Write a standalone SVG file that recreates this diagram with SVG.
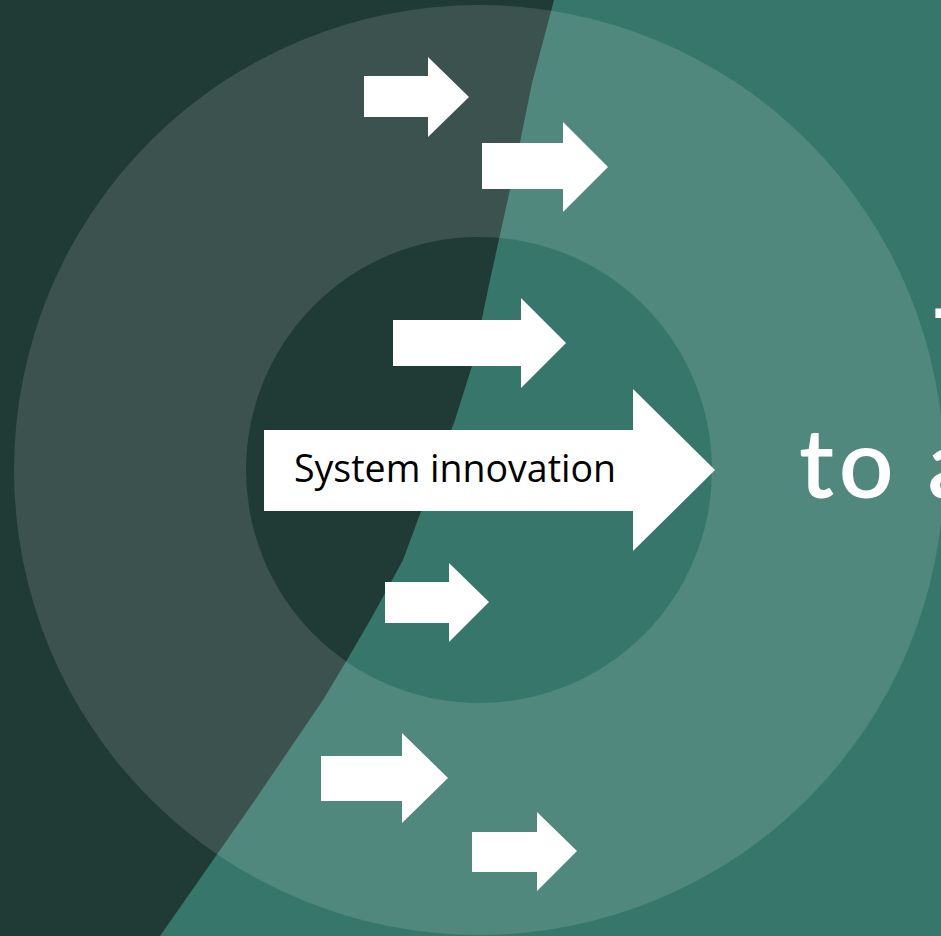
<svg xmlns="http://www.w3.org/2000/svg" width="941" height="936" viewBox="0 0 941 936">
  <style>
    .arrow { fill: #ffffff; }
    .label { font-family: "Open Sans", "Noto Sans", sans-serif; font-size: 37.5px; fill: #000000; }
    .title { font-family: Lato, "Noto Sans", sans-serif; font-size: 96px; font-weight: 600; letter-spacing: 5px; fill: #ffffff; }
  </style>
  <g id="background">
    <rect x="0" y="0" width="941" height="936" fill="#203a36"/>
    <path d="M554,0 L941,0 L941,936 L160,936 L255,800 L323,700 L347,660 L372,617 L403,560 L430,487 L455,420 L472,366 L490,280 L515,167 L532,83 Z" fill="#37776b"/>
    <path d="M14,470 a465,465 0 1,0 930,0 a465,465 0 1,0 -930,0 Z M246,470 a233,233 0 1,0 466,0 a233,233 0 1,0 -466,0 Z" fill="#ffffff" fill-opacity="0.125" fill-rule="evenodd"/>
  </g>
  <g id="connectors">
    <g id="arrow1"><polygon class="arrow" points="364,76 428,76 428,57 469,97 428,137 428,117 364,117"/></g>
    <g id="arrow2"><polygon class="arrow" points="482,143 563,143 563,122 608,167 563,212 563,189 482,189"/></g>
    <g id="arrow3"><polygon class="arrow" points="393,320 521,320 521,298 566,343 521,388 521,366 393,366"/></g>
    <g id="arrow5"><polygon class="arrow" points="385,582 449,582 449,563 489,602 449,642 449,623 385,623"/></g>
    <g id="arrow6"><polygon class="arrow" points="321,756 402,756 402,733 448,778 402,823 402,801 321,801"/></g>
    <g id="arrow7"><polygon class="arrow" points="472,832 537,832 537,812 577,851 537,891 537,872 472,872"/></g>
  </g>
  <g id="system-innovation">
    <polygon class="arrow" points="264,430 633,430 633,389 715,470 633,551 633,511 264,511"/>
    <text class="label" x="294" y="482">System innovation</text>
  </g>
  <g id="title">
    <text class="title" x="934" y="378">T</text>
    <text class="title" x="799" y="498">to a</text>
  </g>
</svg>
